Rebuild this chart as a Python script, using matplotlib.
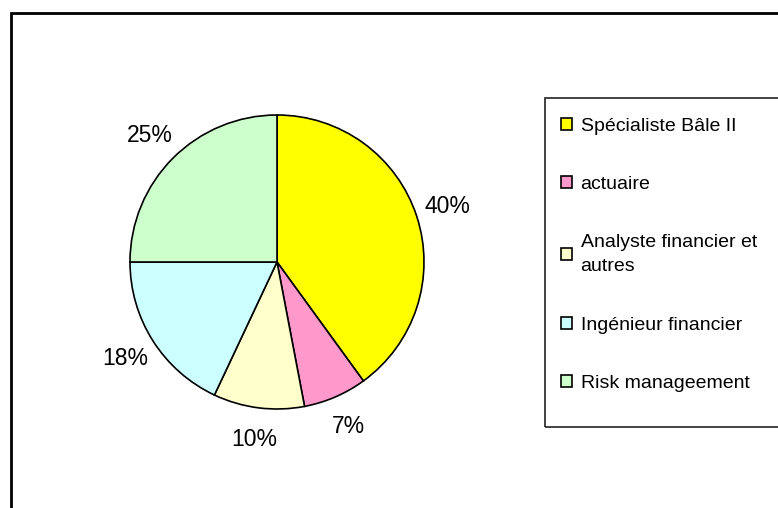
import matplotlib.pyplot as plt
from matplotlib.patches import Rectangle

labels = ['Spécialiste Bâle II', 'actuaire', 'Analyste financier et\nautres',
          'Ingénieur financier', 'Risk manageement']
values = [40, 7, 10, 18, 25]
colors = ['#FFFF00', '#FF99CC', '#FFFFCC', '#CCFFFF', '#CCFFCC']

plt.rcParams['font.family'] = ['Liberation Sans', 'DejaVu Sans']

W, H = 778, 508
fig = plt.figure(figsize=(W / 100, H / 100), dpi=100)

# outer chart frame (runs off the right and bottom edges)
fig.patches.append(Rectangle((11 / W, -0.1), 1.2, 1 - 13 / H + 0.1,
                             transform=fig.transFigure, fill=False,
                             edgecolor='black', linewidth=2))

# pie
cx, cy, r = 277, H - 262, 147
ax = fig.add_axes([(cx - r) / W, (cy - r) / H, 2 * r / W, 2 * r / H])
wedges, texts, autotexts = ax.pie(values, colors=colors, startangle=90,
                                  counterclock=False, autopct='%1.0f%%',
                                  pctdistance=1.22,
                                  wedgeprops=dict(edgecolor='black', linewidth=1.2),
                                  textprops=dict(fontsize=16.5))
ax.set_xlim(-1, 1)
ax.set_ylim(-1, 1)

# legend box
fig.patches.append(Rectangle((545 / W, 1 - 427 / H), 0.5, (427 - 97.5) / H,
                             transform=fig.transFigure, fill=False,
                             edgecolor='#222222', linewidth=1.2))

leg = fig.legend(wedges, labels, loc='upper left',
                 bbox_to_anchor=(551 / W, 1 - 108 / H), frameon=False,
                 fontsize=14, handlelength=0.57, handleheight=0.57,
                 handletextpad=0.45, labelspacing=2.12, borderpad=0)
for t in leg.get_texts():
    t.set_linespacing(1.55)

fig.savefig('out.png', dpi=100)
